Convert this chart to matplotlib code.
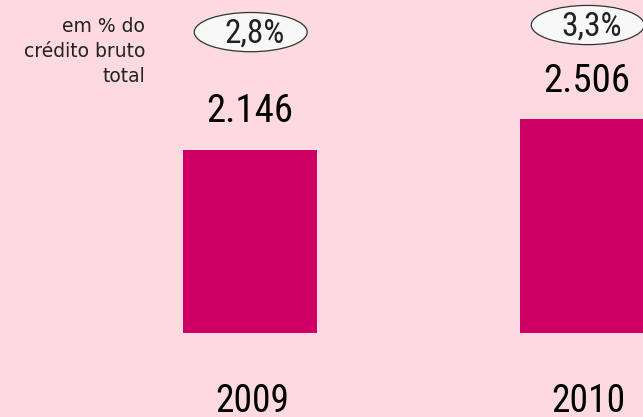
import matplotlib
matplotlib.use("Agg")
import matplotlib.pyplot as plt
import matplotlib.transforms as mtransforms
from matplotlib.patches import Ellipse

# dados
anos = ["2009", "2010"]
valores = [2146, 2506]
rácios = ["2,8%", "3,3%"]

FUNDO = "#FDDAE0"
BARRA = "#CE0066"
NARROW = ["Roboto Condensed", "DejaVu Sans"]

fig = plt.figure(figsize=(6.43, 4.17), dpi=100, facecolor=FUNDO)
ax = fig.add_axes([0, 0, 1, 1])
ax.set_facecolor(FUNDO)
ax.axis("off")

x = list(range(len(anos)))
bars = ax.bar(x, valores, width=0.398, color=BARRA)
ax.set_xlim(-0.742, 1.166)
ax.set_ylim(-985, 3905)

# blended: x em dados, y em fração dos eixos
trans = mtransforms.blended_transform_factory(ax.transData, ax.transAxes)

for xi, b, v, ano, r, ey in zip(x, bars, valores, anos, rácios, [0.923, 0.94]):
    ax.annotate(f"{v:,}".replace(",", "."), (xi, b.get_height()),
                xytext=(-0.5, 20), textcoords="offset points",
                ha="center", va="baseline", fontsize=28, family=NARROW)
    ax.text(xi + 0.005, 0.013, ano, transform=trans, ha="center", va="baseline",
            fontsize=27, family=NARROW)
    ax.add_patch(Ellipse((xi + 0.002, ey), 0.335, 0.094, transform=trans,
                         facecolor="#F8F8F8", edgecolor="#333333", lw=0.9))
    ax.text(xi + 0.014, ey - 0.004, r, transform=trans, ha="center", va="center",
            fontsize=24, family=NARROW, color="#222222")

ax.text(145 / 643, 1 - 17 / 417, "em % do\ncrédito bruto\ntotal",
        transform=ax.transAxes, ha="right", va="top", fontsize=13.5,
        linespacing=1.4, color="#222222")

fig.savefig("out.png", dpi=100, facecolor=FUNDO)
